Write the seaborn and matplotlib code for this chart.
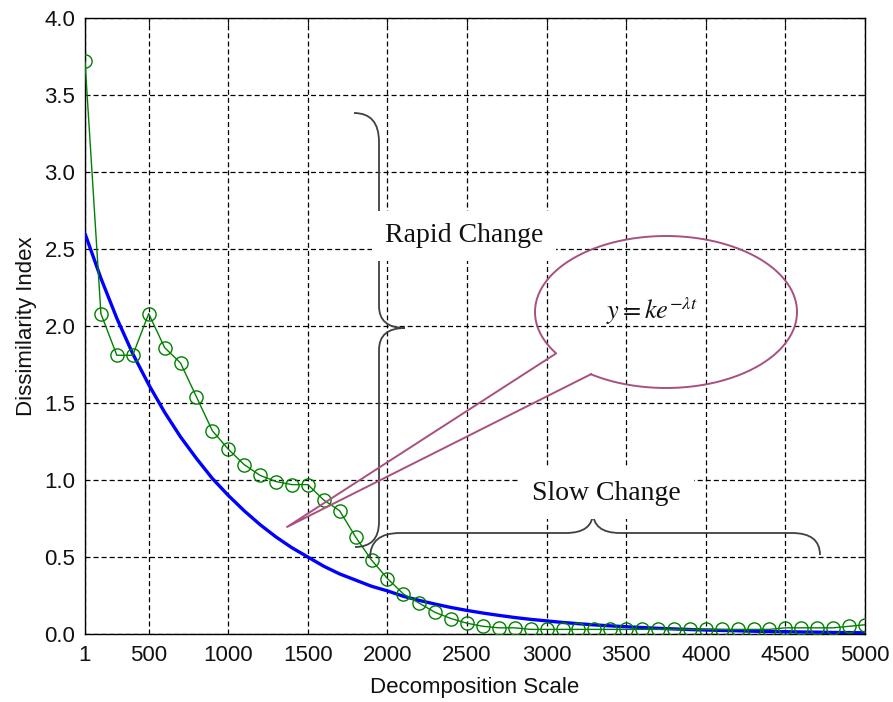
import numpy as np
import pandas as pd
import matplotlib
matplotlib.use("Agg")
import matplotlib.pyplot as plt
from matplotlib.path import Path
from matplotlib.patches import PathPatch
import seaborn as sns

# ---------------- data ----------------
scales = list(range(100, 5001, 100))
measured = [3.72, 2.08, 1.81, 1.81, 2.08, 1.86, 1.76, 1.54, 1.32, 1.20,
            1.10, 1.03, 0.99, 0.97, 0.97, 0.87, 0.80, 0.63, 0.48, 0.36,
            0.26, 0.20, 0.14, 0.10, 0.07, 0.05, 0.04, 0.04, 0.03, 0.03,
            0.03, 0.03, 0.03, 0.03, 0.03, 0.03, 0.03, 0.03, 0.03, 0.03,
            0.03, 0.03, 0.03, 0.03, 0.04, 0.04, 0.04, 0.04, 0.05, 0.06]
fitted = [2.60, 2.31, 2.05, 1.82, 1.62, 1.44, 1.28, 1.14, 1.01, 0.90,
          0.80, 0.71, 0.63, 0.56, 0.50, 0.44, 0.39, 0.35, 0.31, 0.28,
          0.245, 0.218, 0.194, 0.172, 0.153, 0.136, 0.121, 0.107, 0.095, 0.085,
          0.075, 0.067, 0.059, 0.053, 0.047, 0.042, 0.037, 0.033, 0.029, 0.026,
          0.023, 0.021, 0.018, 0.016, 0.015, 0.013, 0.012, 0.010, 0.009, 0.008]
xtick_pos = [100, 500, 1000, 1500, 2000, 2500, 3000, 3500, 4000, 4500, 5000]
xtick_labels = ['1', '500', '1000', '1500', '2000', '2500', '3000', '3500',
                '4000', '4500', '5000']
ytick_pos = [0.0, 0.5, 1.0, 1.5, 2.0, 2.5, 3.0, 3.5, 4.0]
ytick_labels = ['0.0', '0.5', '1.0', '1.5', '2.0', '2.5', '3.0', '3.5', '4.0']

# ---------------- style ----------------
sns.set_theme(style="white")
plt.rcParams['font.family'] = ['Liberation Sans', 'DejaVu Sans']
plt.rcParams['lines.scale_dashes'] = False
plt.rcParams['mathtext.fontset'] = 'stix'

fig = plt.figure(figsize=(8.93, 7.02), dpi=100)
ax = fig.add_axes([85 / 893, 68 / 702, 780 / 893, 616 / 702])

df_fit = pd.DataFrame({'scale': scales, 'value': fitted})
df_meas = pd.DataFrame({'scale': scales, 'value': measured})

sns.lineplot(data=df_fit, x='scale', y='value', color='#0000ff',
             linewidth=2.4, ax=ax, zorder=3)
sns.lineplot(data=df_meas, x='scale', y='value', color='#008000',
             linewidth=1.0, marker='o', markersize=9.5,
             markerfacecolor='none', markeredgecolor='#008000',
             markeredgewidth=1.0, ax=ax, zorder=4)

ax.set_xlim(100, 5000)
ax.set_ylim(0, 4)
ax.set_xticks(xtick_pos)
ax.set_xticklabels(xtick_labels)
ax.set_yticks(ytick_pos)
ax.set_yticklabels(ytick_labels)
ax.tick_params(direction='in', length=5, width=0.8, top=True, right=True,
               labelsize=16, colors='#111111', pad=7)
ax.tick_params(axis='x', pad=8)
ax.set_axisbelow(True)
ax.grid(True, color='black', linestyle=(0, (3.6, 2.2)), linewidth=0.9)
for s in ax.spines.values():
    s.set_color('black')
    s.set_linewidth(1.0)
ax.set_xlabel('Decomposition Scale', fontsize=16, labelpad=8, color='#111111')
ax.set_ylabel('Dissimilarity Index', fontsize=16, labelpad=5, color='#111111')


# ---------------- annotations (positions given in pixel space) ----------------
def px(xp, yp):
    return 100 + (xp - 85) * 4900 / 780, (634 - yp) / 154


def brace(points_codes, color='#404040', lw=1.3):
    verts = [px(*p) for p, _ in points_codes]
    codes = [c for _, c in points_codes]
    ax.add_patch(PathPatch(Path(verts, codes), fill=False, edgecolor=color,
                           linewidth=lw, zorder=5, clip_on=False))


M, L, C3 = Path.MOVETO, Path.LINETO, Path.CURVE3
# vertical brace ("Rapid Change")
brace([((354, 113), M), ((379, 113), C3), ((379, 142), C3),
       ((379, 306), L), ((379, 328), C3), ((405, 328), C3),
       ((379, 328), C3), ((379, 350), C3),
       ((379, 522), L), ((379, 547), C3), ((355, 547), C3)])
# horizontal brace ("Slow Change")
brace([((370, 558), M), ((370, 533), C3), ((400, 533), C3),
       ((566, 533), L), ((593, 533), C3), ((593, 512), C3),
       ((593, 533), C3), ((620, 533), C3),
       ((792, 533), L), ((820, 533), C3), ((820, 555), C3)])

tx, ty = px(385, 236)
ax.text(tx, ty, 'Rapid Change', fontsize=20, family='Liberation Serif',
        ha='left', va='center', color='#111111', zorder=6,
        bbox=dict(boxstyle='square,pad=0.45', fc='white', ec='none'))
tx, ty = px(606, 493)
ax.text(tx, ty, 'Slow Change', fontsize=20, family='Liberation Serif',
        ha='center', va='center', color='#111111', zorder=6,
        bbox=dict(boxstyle='square,pad=0.5', fc='white', ec='none'))

# callout ellipse with tail
cxp, cyp, ap, bp = 666, 312, 131, 76
t = np.deg2rad(np.linspace(235, 573, 300))
ex = [px(cxp + ap * np.cos(a), cyp - bp * np.sin(a)) for a in t]
tip = px(287, 527)
poly = ex + [tip, ex[0]]
ax.plot([p[0] for p in poly], [p[1] for p in poly], color='#a8507f',
        linewidth=1.4, zorder=5, clip_on=False)
fx, fy = px(652, 311)
ax.text(fx, fy, r'$y = ke^{-\lambda t}$', fontsize=19, ha='center',
        va='center', color='#111111', zorder=6)

fig.savefig('out.png', dpi=100)
